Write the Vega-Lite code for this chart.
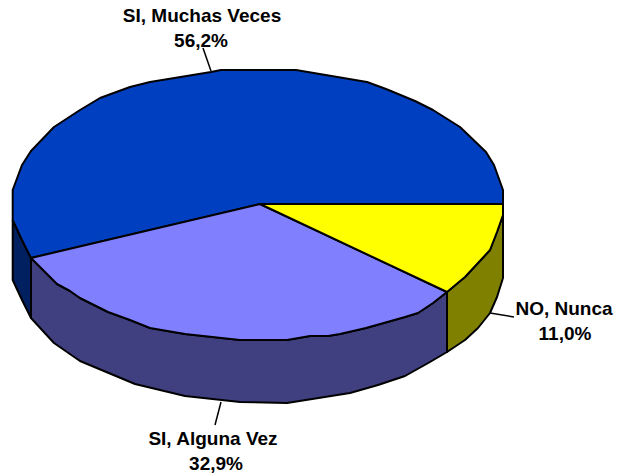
{"$schema":"https://vega.github.io/schema/vega-lite/v6.json","width":617,"height":475,"padding":0,"autosize":"none","background":"white","view":{"stroke":null},"datasets":{"shapes":[
{"part":"navy","i":0,"x":12.7,"y":220},{"part":"navy","i":1,"x":22,"y":240},{"part":"navy","i":2,"x":31,"y":258},{"part":"navy","i":3,"x":31,"y":318},{"part":"navy","i":4,"x":22,"y":300},{"part":"navy","i":5,"x":12.7,"y":280},{"part":"navy","i":6,"x":12.7,"y":220},
{"part":"sideL","i":0,"x":31,"y":258},{"part":"sideL","i":1,"x":57,"y":284},{"part":"sideL","i":2,"x":70,"y":291},{"part":"sideL","i":3,"x":80,"y":298},{"part":"sideL","i":4,"x":108,"y":312},{"part":"sideL","i":5,"x":130,"y":320},{"part":"sideL","i":6,"x":150,"y":328},{"part":"sideL","i":7,"x":185,"y":334},{"part":"sideL","i":8,"x":240,"y":340},{"part":"sideL","i":9,"x":287,"y":340},{"part":"sideL","i":10,"x":310,"y":336},{"part":"sideL","i":11,"x":328,"y":336},{"part":"sideL","i":12,"x":340,"y":334},{"part":"sideL","i":13,"x":366,"y":328},{"part":"sideL","i":14,"x":405,"y":317},{"part":"sideL","i":15,"x":418,"y":313},{"part":"sideL","i":16,"x":433,"y":303},{"part":"sideL","i":17,"x":447,"y":292},{"part":"sideL","i":18,"x":447,"y":352},{"part":"sideL","i":19,"x":430,"y":362},{"part":"sideL","i":20,"x":405,"y":376},{"part":"sideL","i":21,"x":378,"y":385},{"part":"sideL","i":22,"x":350,"y":393},{"part":"sideL","i":23,"x":287,"y":403},{"part":"sideL","i":24,"x":240,"y":402},{"part":"sideL","i":25,"x":185,"y":396},{"part":"sideL","i":26,"x":135,"y":384},{"part":"sideL","i":27,"x":80,"y":361},{"part":"sideL","i":28,"x":54,"y":343},{"part":"sideL","i":29,"x":31,"y":318},{"part":"sideL","i":30,"x":31,"y":258},
{"part":"sideO","i":0,"x":447,"y":292},{"part":"sideO","i":1,"x":465,"y":277},{"part":"sideO","i":2,"x":478,"y":263},{"part":"sideO","i":3,"x":490,"y":250},{"part":"sideO","i":4,"x":497,"y":232},{"part":"sideO","i":5,"x":503,"y":215},{"part":"sideO","i":6,"x":503,"y":278},{"part":"sideO","i":7,"x":497,"y":297},{"part":"sideO","i":8,"x":490,"y":313},{"part":"sideO","i":9,"x":478,"y":328},{"part":"sideO","i":10,"x":465,"y":340},{"part":"sideO","i":11,"x":447,"y":352},{"part":"sideO","i":12,"x":447,"y":292},
{"part":"blue","i":0,"x":260,"y":204},{"part":"blue","i":1,"x":31,"y":258},{"part":"blue","i":2,"x":22,"y":240},{"part":"blue","i":3,"x":12.7,"y":220},{"part":"blue","i":4,"x":12.7,"y":190},{"part":"blue","i":5,"x":22,"y":165},{"part":"blue","i":6,"x":31,"y":151},{"part":"blue","i":7,"x":54,"y":127},{"part":"blue","i":8,"x":80,"y":110},{"part":"blue","i":9,"x":100,"y":98},{"part":"blue","i":10,"x":130,"y":87},{"part":"blue","i":11,"x":150,"y":82},{"part":"blue","i":12,"x":211,"y":72},{"part":"blue","i":13,"x":221,"y":70},{"part":"blue","i":14,"x":296,"y":70},{"part":"blue","i":15,"x":367,"y":82},{"part":"blue","i":16,"x":386,"y":89},{"part":"blue","i":17,"x":415,"y":101},{"part":"blue","i":18,"x":433,"y":110},{"part":"blue","i":19,"x":460,"y":127},{"part":"blue","i":20,"x":486,"y":152},{"part":"blue","i":21,"x":494,"y":165},{"part":"blue","i":22,"x":503,"y":190},{"part":"blue","i":23,"x":503,"y":204},{"part":"blue","i":24,"x":260,"y":204},
{"part":"lav","i":0,"x":260,"y":204},{"part":"lav","i":1,"x":447,"y":292},{"part":"lav","i":2,"x":433,"y":303},{"part":"lav","i":3,"x":418,"y":313},{"part":"lav","i":4,"x":405,"y":317},{"part":"lav","i":5,"x":366,"y":328},{"part":"lav","i":6,"x":340,"y":334},{"part":"lav","i":7,"x":328,"y":336},{"part":"lav","i":8,"x":310,"y":336},{"part":"lav","i":9,"x":287,"y":340},{"part":"lav","i":10,"x":240,"y":340},{"part":"lav","i":11,"x":185,"y":334},{"part":"lav","i":12,"x":150,"y":328},{"part":"lav","i":13,"x":130,"y":320},{"part":"lav","i":14,"x":108,"y":312},{"part":"lav","i":15,"x":80,"y":298},{"part":"lav","i":16,"x":70,"y":291},{"part":"lav","i":17,"x":57,"y":284},{"part":"lav","i":18,"x":31,"y":258},{"part":"lav","i":19,"x":260,"y":204},
{"part":"yel","i":0,"x":260,"y":204},{"part":"yel","i":1,"x":503,"y":204},{"part":"yel","i":2,"x":503,"y":215},{"part":"yel","i":3,"x":497,"y":232},{"part":"yel","i":4,"x":490,"y":250},{"part":"yel","i":5,"x":478,"y":263},{"part":"yel","i":6,"x":465,"y":277},{"part":"yel","i":7,"x":447,"y":292},{"part":"yel","i":8,"x":260,"y":204}
],"leaders":[{"x":203,"y":48,"x2":211,"y2":71},{"x":490,"y":313,"x2":514,"y2":317},{"x":221,"y":402,"x2":215,"y2":425}],
"labels":[{"t":"SI, Muchas Veces","x":202,"y":16},{"t":"56,2%","x":201,"y":41},{"t":"NO, Nunca","x":564,"y":309},{"t":"11,0%","x":565,"y":334},{"t":"SI, Alguna Vez","x":213,"y":439},{"t":"32,9%","x":216,"y":464}]},
"layer":[
{"data":{"name":"shapes"},"mark":{"type":"line","stroke":"black","strokeWidth":2,"strokeJoin":"round","clip":false},"encoding":{"x":{"field":"x","type":"quantitative","scale":{"domain":[0,617],"nice":false,"zero":false},"axis":null},"y":{"field":"y","type":"quantitative","scale":{"domain":[475,0],"nice":false,"zero":false},"axis":null},"order":{"field":"i","type":"quantitative"},"detail":{"field":"part"},"fill":{"field":"part","type":"nominal","legend":null,"scale":{"domain":["navy","sideL","sideO","blue","lav","yel"],"range":["#002060","#404080","#808000","#0040C0","#8080FF","#FFFF00"]}}}},
{"data":{"name":"leaders"},"mark":{"type":"rule","stroke":"black","strokeWidth":1.5},"encoding":{"x":{"field":"x","type":"quantitative"},"y":{"field":"y","type":"quantitative"},"x2":{"field":"x2"},"y2":{"field":"y2"}}},
{"data":{"name":"labels"},"mark":{"type":"text","font":"Liberation Sans","fontWeight":"bold","fontSize":19,"align":"center","baseline":"middle","color":"black"},"encoding":{"x":{"field":"x","type":"quantitative"},"y":{"field":"y","type":"quantitative"},"text":{"field":"t"}}}
]}
